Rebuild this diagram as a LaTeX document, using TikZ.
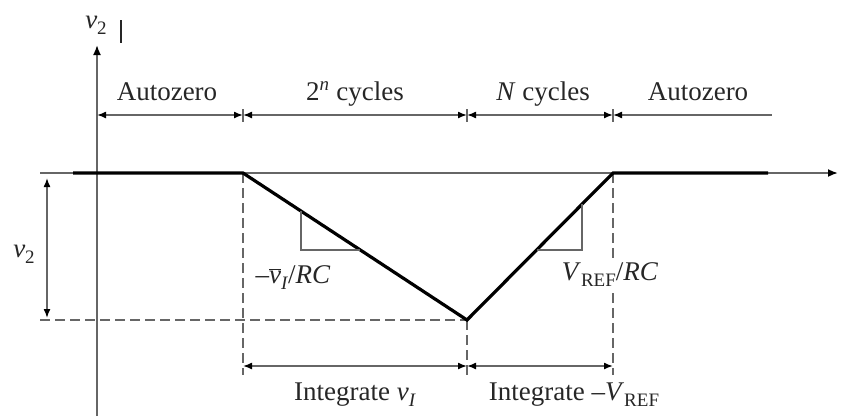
\documentclass[tikz,border=0pt]{standalone}
\usepackage{fontspec}
\setmainfont{Liberation Serif}
\usetikzlibrary{arrows.meta,calc}
\definecolor{ax}{HTML}{666666}
\definecolor{txt}{HTML}{262626}
\newcommand{\myv}{\textit{v}}
\newcommand{\mysub}[1]{\raisebox{-0.25em}{\fontsize{19}{20}\selectfont #1}}
\begin{document}
\begin{tikzpicture}[x=1pt,y=-1pt,
 axis/.style={ax, line width=1.8pt},
 wave/.style={black, line width=3.2pt, line join=miter},
 guide/.style={ax, line width=1.5pt, dash pattern=on 10pt off 5pt},
 dim/.style={ax, line width=1.5pt, {Latex[length=9pt,width=7pt,color=black]}-{Latex[length=9pt,width=7pt,color=black]}},
 dimr/.style={ax, line width=1.5pt, {Latex[length=9pt,width=7pt,color=black]}-},
 tick/.style={ax, line width=1.3pt},
 slope/.style={ax, line width=1.2pt},
 lbl/.style={txt, font=\fontsize{27}{30}\selectfont, inner sep=0pt, anchor=base}]
\useasboundingbox (0,0) rectangle (853,416);
% key points
\coordinate (S) at (73,173);
\coordinate (A) at (243,173);
\coordinate (B) at (467,320);
\coordinate (C) at (613,173);
\coordinate (E) at (768,173);
% axes
\coordinate (xl) at (40,173);
\coordinate (xr) at (838,173);
\coordinate (yb) at (97,416);
\coordinate (yt) at (97,45);
\draw[axis,-{Latex[length=10pt,width=8pt,color=black]}] (xl) -- (xr);
\draw[axis,-{Latex[length=10pt,width=8pt,color=black]}] (yb) -- (yt);
\coordinate (bar1) at (121,20);
\coordinate (bar2) at (121,43);
\draw[txt, line width=1.5pt] (bar1) -- (bar2);
% guides
\coordinate (Ad) at (243,375);
\coordinate (Bd) at (467,375);
\coordinate (Cd) at (613,375);
\coordinate (hl) at (40,320);
\draw[guide] (A) -- (Ad);
\draw[guide] (B) -- (Bd);
\draw[guide] (C) -- (Cd);
\draw[guide] (hl) -- (B);
% waveform
\draw[wave] (S) -- (A) -- (B) -- (C) -- (E);
% top dimension line
\coordinate (t0) at (97,115);
\coordinate (t1) at (243,115);
\coordinate (t2) at (467,115);
\coordinate (t3) at (613,115);
\coordinate (t4) at (772,115);
\draw[dim] (t0) -- (t1);
\draw[dim] (t1) -- (t2);
\draw[dim] (t2) -- (t3);
\draw[dimr] (t3) -- (t4);
\foreach \p in {t1,t2,t3} \draw[tick] ($(\p)+(0,-6)$) -- ($(\p)+(0,7)$);
% bottom dimension line
\coordinate (b1) at (243,366);
\coordinate (b2) at (467,366);
\coordinate (b3) at (613,366);
\draw[dim] (b1) -- (b2);
\draw[dim] (b2) -- (b3);
% v2 dimension
\coordinate (v1) at (47,178);
\coordinate (v2) at (47,318);
\draw[dim] (v1) -- (v2);
% slope triangles
\coordinate (L1) at (301,211);
\coordinate (L2) at (301,250);
\coordinate (L3) at (360,250);
\draw[slope] (L1) -- (L2) -- (L3);
\coordinate (R1) at (582,204);
\coordinate (R2) at (582,250);
\coordinate (R3) at (537,250);
\draw[slope] (R1) -- (R2) -- (R3);
% labels
\node[lbl] (ylab) at (96,28) {\myv\mysub{2}};
\node[lbl] (az1) at (167,100) {Autozero};
\node[lbl] (cyc1) at (355,100) {2\textsuperscript{\textit{n}} cycles};
\node[lbl] (cyc2) at (543,100) {\textit{N} cycles};
\node[lbl] (az2) at (698,100) {Autozero};
\node[lbl] (vlab) at (24,257) {\myv\mysub{2}};
\node[lbl] (sl1) at (293,283) {–$\overline{\mbox{\itshape v}}$\mysub{\textit{I}}/\textit{RC}};
\node[lbl, fill=white, inner sep=1pt] (sl2) at (610,280) {\textit{V}\mysub{REF}/\textit{RC}};
\node[lbl] (int1) at (355,400) {Integrate \myv\mysub{\textit{I}}};
\node[lbl] (int2) at (574,400) {Integrate –\textit{V}\mysub{REF}};
\end{tikzpicture}
\end{document}
